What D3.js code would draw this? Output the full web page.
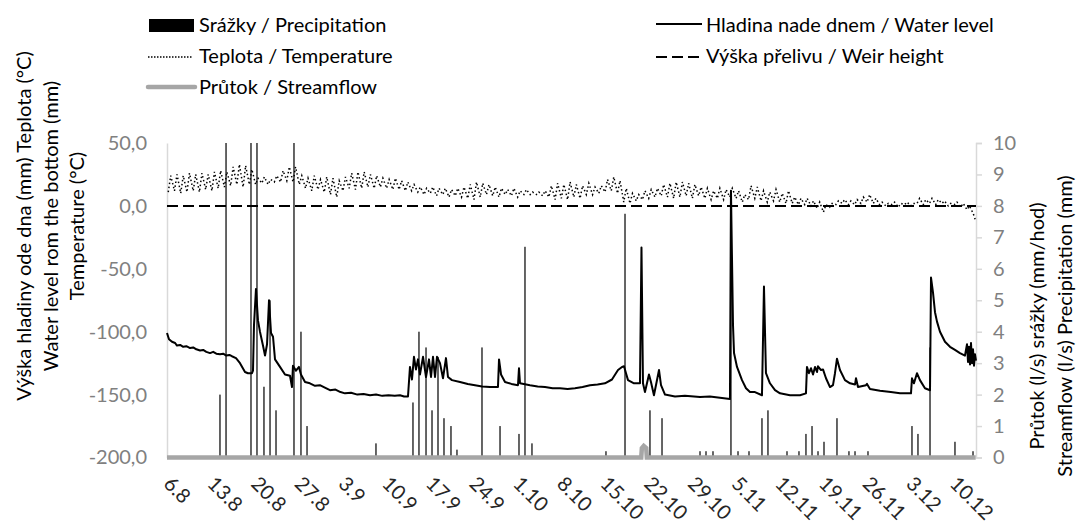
<!DOCTYPE html>
<html>
<head>
    <meta charset="utf-8">
    <title>Hladina, teplota, srazky</title>
    <script src="https://cdnjs.cloudflare.com/ajax/libs/d3/7.8.5/d3.min.js"></script>
    <style>
        body { margin: 0; background: #fff; }
        text { font-family: Lato, "Noto Sans", sans-serif; }
    </style>
</head>
<body>
<div id="chart"></div>

<script type="text/javascript">
    var width = 1077,
        height = 522;

    ////////////////////////////////////////////////////////////
    ///////////////////////// Data /////////////////////////////
    ////////////////////////////////////////////////////////////

    //time is in days counted from 6.8 00:00
    var dateLabels = ["6.8", "13.8", "20.8", "27.8", "3.9", "10.9", "17.9", "24.9", "1.10", "8.10",
        "15.10", "22.10", "29.10", "5.11", "12.11", "19.11", "26.11", "3.12", "10.12"];
    var leftTicks = [50, 0, -50, -100, -150, -200];
    var rightTicks = [0, 1, 2, 3, 4, 5, 6, 7, 8, 9, 10];

    //precipitation (mm/hod), right axis; values above 10 run off the top
    var precipDay = [8.49, 9.46, 13.46, 14.42, 15.54, 16.51, 17.47, 20.35, 21.47, 22.44, 33.49,
        39.42, 40.38, 41.51, 42.47, 43.43, 44.39, 45.51, 46.47, 50.48, 53.37, 56.41, 57.37, 58.49,
        70.35, 73.40, 77.40, 79.33, 85.42, 86.38, 87.50, 90.38, 91.51, 93.27, 95.35, 96.31, 99.36,
        101.28, 102.40, 103.37, 104.33, 105.29, 107.37, 109.29, 110.26, 112.34, 119.39, 120.35,
        122.28, 126.28, 129.17];
    var precipValue = [2.0, 12, 12, 12, 2.25, 5.0, 1.5, 12, 4.0, 1.0, 0.45,
        1.75, 4.0, 3.5, 1.5, 3.2, 1.25, 1.0, 0.25, 3.5, 1.0, 0.75, 6.7, 0.45,
        0.2, 7.75, 1.5, 1.25, 0.2, 0.2, 0.2, 8.5, 0.2, 0.2, 1.25, 1.5, 0.2,
        0.2, 0.75, 1.0, 0.2, 0.5, 1.25, 0.2, 0.2, 0.2, 1.0, 0.75,
        3.5, 0.5, 0.2];

    //water level above the bottom (mm), left axis: [day, mm]
    var waterLevel = [[0, -101], [0.32, -106], [0.8, -108], [1.3, -109], [1.6, -111], [2.1, -110.5],
        [2.6, -112], [3.1, -111.5], [3.7, -113], [4.2, -112.5], [4.7, -114], [5.3, -115], [5.8, -114.5],
        [6.3, -116], [6.9, -117], [7.4, -116], [7.9, -117.5], [8.5, -118], [9.0, -117.5], [9.5, -119],
        [10.0, -118.5], [10.4, -119.5], [11.06, -121], [11.7, -125], [12.5, -132], [12.98, -133],
        [13.62, -133], [13.78, -131], [13.94, -95], [14.26, -66], [14.58, -91], [14.9, -100],
        [15.38, -111], [15.71, -119], [16.03, -110], [16.35, -75], [16.67, -101], [16.99, -104],
        [17.31, -122], [18.11, -128], [18.91, -134], [19.71, -135], [20.03, -144], [20.19, -127],
        [20.67, -131], [21.15, -128], [21.47, -134], [22.12, -140], [22.9, -141], [23.72, -143],
        [24.5, -142.5], [25.3, -144.5], [26.12, -146.5], [27.0, -146], [27.8, -148], [28.53, -149],
        [29.5, -148.5], [30.5, -150], [31.5, -149.5], [32.53, -150.5], [33.5, -150], [34.5, -151],
        [35.5, -150.5], [36.5, -151], [37.34, -150.5], [38.0, -151.5], [38.62, -151.5], [38.94, -128],
        [39.26, -138], [39.58, -120], [39.9, -130], [40.22, -122], [40.54, -134], [41.03, -120],
        [41.51, -136], [41.99, -122], [42.31, -136], [42.63, -120], [42.95, -136], [43.27, -120],
        [43.75, -125], [44.23, -137], [44.71, -121], [45.03, -136], [45.67, -138.5], [46.96, -140],
        [48.2, -141.5], [49.36, -142.5], [50.5, -143.5], [51.76, -144], [53.04, -144], [53.21, -122],
        [53.53, -134], [54.17, -140], [55.2, -141.5], [56.25, -142.5], [56.41, -129], [56.57, -141],
        [58.17, -142.5], [59.4, -143.5], [60.58, -144], [61.8, -145], [62.98, -145], [64.2, -145.5],
        [65.38, -145], [66.6, -144], [67.79, -142.5], [69.0, -142], [70.19, -141], [71.31, -138],
        [72.28, -130.5], [72.92, -128], [73.24, -127.5], [73.56, -133], [73.88, -138.5], [74.84, -141],
        [75.8, -141], [76.04, -33], [76.28, -141], [76.6, -148], [77.24, -134], [77.56, -140],
        [78.04, -150.5], [78.85, -130.5], [79.17, -142.5], [79.81, -150], [81.41, -151.5], [83.0, -151],
        [85.42, -152], [87.0, -151.5], [88.62, -152.5], [90.22, -153.5], [90.38, 12], [90.54, -40],
        [90.71, -95], [90.87, -117], [91.35, -128], [92.15, -138.5], [92.79, -145], [93.43, -148],
        [94.23, -148], [95.35, -150.5], [95.67, -64], [95.99, -133], [96.63, -141], [97.44, -146.5],
        [98.24, -149], [99.84, -150.5], [101.44, -150.5], [102.4, -149], [102.56, -128], [102.88, -133],
        [103.21, -129], [103.53, -134], [103.85, -128], [104.17, -132], [104.33, -127.5], [104.81, -130.5],
        [105.13, -130], [105.61, -137], [106.25, -144], [106.73, -142.5], [107.05, -133], [107.37, -121.5],
        [107.85, -130.5], [108.65, -138.5], [109.46, -141], [110.26, -142], [110.42, -137], [110.74, -144],
        [112.02, -142.5], [112.18, -141.5], [112.66, -145.5], [114.26, -147], [116.0, -148], [117.47, -149],
        [119.23, -149], [119.39, -137], [119.71, -141], [120.19, -133], [120.67, -138.5], [121.47, -145],
        [122.28, -146.5], [122.44, -57], [122.76, -69], [123.08, -84.5], [123.4, -92], [123.88, -100],
        [124.68, -108], [125.48, -112], [126.28, -114.5], [127.08, -117], [127.88, -119], [128.21, -110],
        [128.37, -124], [128.53, -112], [128.69, -126], [128.85, -109], [129.01, -125], [129.17, -114],
        [129.33, -127], [129.49, -118], [129.65, -123]];

    //temperature (°C), left axis: one early morning and one afternoon reading per day
    var tempMorning = [11, 12, 10, 11, 12, 11, 13, 12, 14, 15, 16, 17, 15, 17, 17, 18, 17, 19, 19, 20,
        19, 17, 14, 12, 13, 11, 9, 7, 12, 14, 13, 14, 15, 14, 15, 14, 13, 13, 12, 12,
        11, 9, 10, 8, 9, 7, 8, 7, 6, 5, 7, 9, 8, 7, 9, 8, 7, 9, 9, 9,
        8, 7, 5, 6, 5, 7, 6, 9, 9, 10, 11, 12, 10, 3, 2, 4, 5, 6, 7, 8,
        7, 6, 7, 8, 6, 8, 6, 5, 6, 5, 7, 6, 3, 5, 6, 4, 3, 4, 3, 2,
        2, 1, 1, 0, -2, -5, -1, 1, 2, 1, 1, 2, 3, 2, 1, 0, 1, -1, 1, 0,
        2, 1, 2, 1, 2, 0, 1, -1, -3, -6];
    var tempAfternoon = [24, 25, 24, 26, 25, 26, 25, 27, 28, 27, 31, 33, 32, 29, 22, 23, 21, 24, 28, 31,
        31, 24, 22, 24, 21, 23, 22, 20, 23, 26, 27, 27, 25, 24, 22, 21, 22, 20, 19, 17,
        15, 14, 15, 14, 14, 13, 14, 15, 17, 19, 18, 17, 15, 14, 13, 14, 12, 13, 11, 11,
        12, 16, 18, 17, 19, 17, 16, 18, 15, 16, 21, 23, 20, 14, 10, 9, 12, 13, 14, 17,
        18, 19, 19, 18, 17, 15, 14, 12, 14, 13, 14, 12, 9, 16, 15, 12, 11, 13, 10, 12,
        7, 6, 6, 4, 3, 1, 2, 4, 5, 4, 5, 7, 9, 6, 3, 2, 3, 2, 3, 2,
        6, 5, 6, 5, 4, 2, 3, 2, 0, -12];

    //streamflow (l/s), right axis
    var streamflow = [[0, 0], [76.0, 0], [76.1, 0.3], [76.4, 0.37], [76.8, 0.3], [76.9, 0], [129.6, 0]];

    //weir height (mm), left axis
    var weirHeight = [[0, 0], [129.65, 0]];

    ////////////////////////////////////////////////////////////
    ///////////////////// Scales and svg ///////////////////////
    ////////////////////////////////////////////////////////////

    var x = d3.scaleLinear().domain([0, 129.65]).range([167, 976]);
    var yL = d3.scaleLinear().domain([-200, 50]).range([457.5, 143]);
    var yR = d3.scaleLinear().domain([0, 10]).range([457.5, 143]).clamp(true);

    var svg = d3.select("#chart").append("svg")
        .attr("width", width)
        .attr("height", height);

    var numFormatComma = function(d) { return d.toFixed(1).replace(".", ","); };

    //axes
    var leftAxis = svg.append("g")
        .attr("transform", "translate(167,0)")
        .call(d3.axisLeft(yL).tickValues(leftTicks).tickSize(0).tickPadding(20).tickFormat(numFormatComma));
    leftAxis.select(".domain").attr("stroke", "#d9d9d9").attr("stroke-width", 1.5);
    leftAxis.selectAll("text").attr("fill", "#808080").style("font-size", "20px").attr("font-family", null);

    var rightAxis = svg.append("g")
        .attr("transform", "translate(976,0)")
        .call(d3.axisRight(yR).tickValues(rightTicks).tickSizeOuter(0).tickSize(6).tickPadding(11));
    rightAxis.select(".domain").attr("stroke", "#d9d9d9").attr("stroke-width", 1.5);
    rightAxis.selectAll("line").attr("stroke", "#d9d9d9").attr("stroke-width", 1.5);
    rightAxis.selectAll("text").attr("fill", "#808080").style("font-size", "20px").attr("font-family", null);

    var bottomAxis = svg.append("g")
        .attr("transform", "translate(0,457.5)")
        .call(d3.axisBottom(x).tickValues(d3.range(0, 127, 7)).tickSize(0)
            .tickFormat(function(d, i) { return dateLabels[i]; }));
    bottomAxis.select(".domain").remove();
    bottomAxis.selectAll("text")
        .attr("x", 16).attr("y", 23).attr("dy", 0)
        .attr("text-anchor", "start")
        .attr("transform", "rotate(45)")
        .attr("fill", "#262626").style("font-size", "20px").attr("font-family", null);

    ////////////////////////////////////////////////////////////
    ///////////////////////// Series ///////////////////////////
    ////////////////////////////////////////////////////////////

    //precipitation columns
    svg.append("g").selectAll("rect")
        .data(precipDay)
        .enter().append("rect")
        .attr("x", function(d) { return x(d) - 0.6; })
        .attr("width", 1.2)
        .attr("y", function(d, i) { return yR(precipValue[i]); })
        .attr("height", function(d, i) { return yR(0) - yR(precipValue[i]); })
        .attr("fill", "#000");

    //streamflow
    svg.append("path")
        .datum(streamflow)
        .attr("d", d3.line().x(function(d) { return x(d[0]); }).y(function(d) { return yR(d[1]); }))
        .attr("fill", "none")
        .attr("stroke", "#a6a6a6")
        .attr("stroke-width", 4.5);

    //weir height
    svg.append("path")
        .datum(weirHeight)
        .attr("d", d3.line().x(function(d) { return x(d[0]); }).y(function(d) { return yL(d[1]); }))
        .attr("fill", "none")
        .attr("stroke", "#000")
        .attr("stroke-width", 2)
        .attr("stroke-dasharray", "11,5");

    //temperature
    var tempSeries = [];
    tempMorning.forEach(function(v, i) {
        tempSeries.push([i + 0.2, v]);
        tempSeries.push([i + 0.6, tempAfternoon[i]]);
    });
    svg.append("path")
        .datum(tempSeries)
        .attr("d", d3.line().x(function(d) { return x(d[0]); }).y(function(d) { return yL(d[1]); }))
        .attr("fill", "none")
        .attr("stroke", "#000")
        .attr("stroke-width", 1.5)
        .attr("stroke-dasharray", "1.5,2.5");

    //water level
    svg.append("path")
        .datum(waterLevel)
        .attr("d", d3.line().x(function(d) { return x(d[0]); }).y(function(d) { return yL(d[1]); }))
        .attr("fill", "none")
        .attr("stroke", "#000")
        .attr("stroke-width", 2)
        .attr("stroke-linejoin", "round");

    ////////////////////////////////////////////////////////////
    ///////////////////// Titles, legend ///////////////////////
    ////////////////////////////////////////////////////////////

    var leftTitle = ["Výška hladiny ode dna (mm) Teplota (°C)", "Water level rom the bottom (mm)", "Temperature (°C)"];
    var rightTitle = ["Průtok (l/s) srážky (mm/hod)", "Streamflow (l/s) Precipitation (mm)"];

    svg.append("g").selectAll("text")
        .data(leftTitle)
        .enter().append("text")
        .attr("transform", "rotate(-90)")
        .attr("x", -226)
        .attr("y", function(d, i) { return 24 + i * 26.5; })
        .attr("dy", "0.35em")
        .attr("text-anchor", "middle")
        .style("font-size", "20px")
        .text(function(d) { return d; });

    svg.append("g").selectAll("text")
        .data(rightTitle)
        .enter().append("text")
        .attr("transform", "rotate(-90)")
        .attr("x", -326)
        .attr("y", function(d, i) { return 1037 + i * 28; })
        .attr("dy", "0.35em")
        .attr("text-anchor", "middle")
        .style("font-size", "20px")
        .text(function(d) { return d; });

    var legend = svg.append("g");

    //precipitation
    legend.append("rect").attr("x", 149).attr("y", 19).attr("width", 45).attr("height", 13).attr("fill", "#000");
    legend.append("text").attr("x", 199).attr("y", 25).attr("dy", "0.35em").style("font-size", "20px").text("Srážky / Precipitation");
    //temperature
    legend.append("line").attr("x1", 148).attr("x2", 192).attr("y1", 57).attr("y2", 57)
        .attr("stroke", "#000").attr("stroke-width", 1.5).attr("stroke-dasharray", "1.5,1.5");
    legend.append("text").attr("x", 199).attr("y", 56).attr("dy", "0.35em").style("font-size", "20px").text("Teplota / Temperature");
    //streamflow
    legend.append("line").attr("x1", 148).attr("x2", 195).attr("y1", 87).attr("y2", 87)
        .attr("stroke", "#a6a6a6").attr("stroke-width", 4.5).attr("stroke-linecap", "round");
    legend.append("text").attr("x", 199).attr("y", 87).attr("dy", "0.35em").style("font-size", "20px").text("Průtok / Streamflow");
    //water level
    legend.append("line").attr("x1", 656).attr("x2", 702).attr("y1", 24).attr("y2", 24)
        .attr("stroke", "#000").attr("stroke-width", 2);
    legend.append("text").attr("x", 706).attr("y", 25).attr("dy", "0.35em").style("font-size", "20px").text("Hladina nade dnem / Water level");
    //weir height
    legend.append("line").attr("x1", 656).attr("x2", 702).attr("y1", 57).attr("y2", 57)
        .attr("stroke", "#000").attr("stroke-width", 2).attr("stroke-dasharray", "11,5");
    legend.append("text").attr("x", 706).attr("y", 56).attr("dy", "0.35em").style("font-size", "20px").text("Výška přelivu / Weir height");

</script>
</body>
</html>
